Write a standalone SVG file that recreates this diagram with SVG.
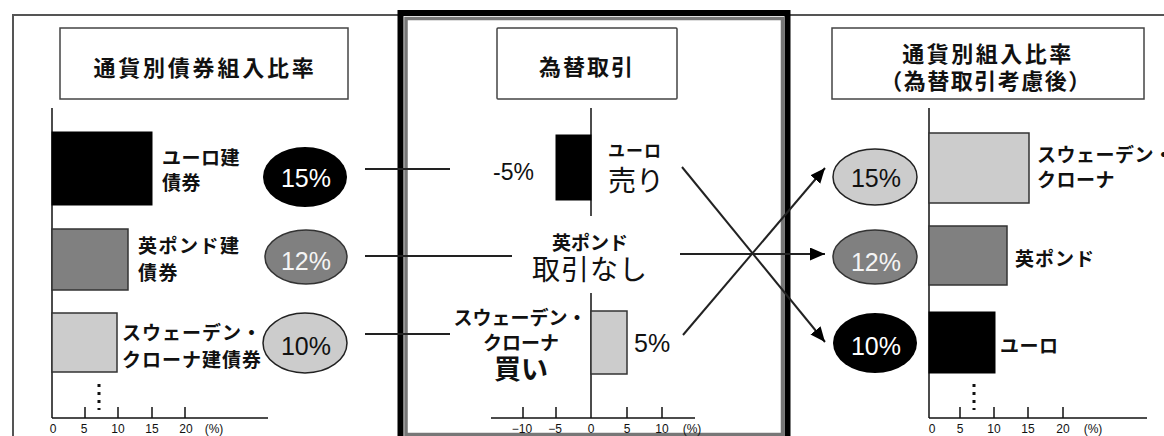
<svg xmlns="http://www.w3.org/2000/svg" width="1164" height="436" viewBox="0 0 1164 436">
<style>
.jp{font-family:"Noto Sans CJK JP","Noto Sans CJK SC",sans-serif;fill:#111}
.b{font-weight:bold}
.num{font-family:"Liberation Sans","DejaVu Sans",sans-serif}
.ax{font-family:"Liberation Sans","DejaVu Sans",sans-serif;font-size:12px;fill:#111;text-anchor:middle}
.tbox{fill:#fff;stroke:#444;stroke-width:1.5}
.axis{stroke:#111;stroke-width:1.5;fill:none}
.conn{stroke:#222;stroke-width:2;fill:none}
.dots{stroke:#111;stroke-width:3;stroke-dasharray:3 5}
.dark{fill:#000;stroke:#000;stroke-width:1}
.mid{fill:#808080;stroke:#333;stroke-width:1.5}
.light{fill:#ccc;stroke:#333;stroke-width:1.5}
</style>
<defs>
<marker id="ah" markerUnits="userSpaceOnUse" markerWidth="16" markerHeight="14" refX="15" refY="6.5" orient="auto">
<path d="M0,0 L15,6.5 L0,13 z" fill="#000"/>
</marker>
</defs>
<rect width="1164" height="436" fill="#fff"/>
<!-- outer frame -->
<g id="frame">
<path d="M13,436 V15 H1164" fill="none" stroke="#555" stroke-width="2"/>
<rect x="400.5" y="13" width="387" height="440" fill="none" stroke="#000" stroke-width="6"/>
<rect x="406" y="18.5" width="376.5" height="416" fill="none" stroke="#777" stroke-width="3.5"/>
</g>

<!-- connectors -->
<g id="connectors">
<line class="conn" x1="365" y1="169" x2="450" y2="169"/>
<line class="conn" x1="365" y1="256" x2="512" y2="256"/>
<line class="conn" x1="365" y1="334" x2="450" y2="334"/>
<line class="conn" x1="682" y1="167" x2="825" y2="342" marker-end="url(#ah)"/>
<line class="conn" x1="683" y1="335" x2="825" y2="168" marker-end="url(#ah)"/>
<line class="conn" x1="680" y1="254" x2="825" y2="254" marker-end="url(#ah)"/>
</g>

<!-- left section -->
<g id="title-left">
<rect class="tbox" x="60" y="28" width="288" height="71"/>
<text class="jp b" x="205" y="76" font-size="22" letter-spacing="2.8" text-anchor="middle">通貨別債券組入比率</text>
</g>
<g id="chart-left">
<line class="axis" x1="52" y1="108" x2="52" y2="418"/>
<line class="axis" x1="52" y1="418" x2="268" y2="418"/>
<line class="axis" x1="85" y1="407" x2="85" y2="418"/>
<line class="axis" x1="118" y1="407" x2="118" y2="418"/>
<line class="axis" x1="152" y1="407" x2="152" y2="418"/>
<line class="axis" x1="185" y1="407" x2="185" y2="418"/>
<text class="ax" x="53" y="433">0</text>
<text class="ax" x="84" y="433">5</text>
<text class="ax" x="118" y="433">10</text>
<text class="ax" x="152" y="433">15</text>
<text class="ax" x="186" y="433">20</text>
<text class="ax" x="214" y="433">(%)</text>
<line class="dots" x1="99" y1="384" x2="99" y2="410"/>
</g>
<g id="bar-left-euro">
<rect class="dark" x="52" y="132" width="100" height="73"/>
<text class="jp b" x="162" y="165" font-size="19" letter-spacing="0.5">ユーロ建</text>
<text class="jp b" x="162" y="190" font-size="19" letter-spacing="0.5">債券</text>
</g>
<g id="bar-left-pound">
<rect class="mid" x="52" y="229" width="76" height="61"/>
<text class="jp b" x="138" y="253" font-size="19" letter-spacing="1.5">英ポンド建</text>
<text class="jp b" x="138" y="280" font-size="19" letter-spacing="1.5">債券</text>
</g>
<g id="bar-left-sek">
<rect class="light" x="52" y="313" width="65" height="59"/>
<text class="jp b" x="122" y="340" font-size="19" letter-spacing="1">スウェーデン・</text>
<text class="jp b" x="122" y="367" font-size="19" letter-spacing="1">クローナ建債券</text>
</g>
<g id="ell-left-15">
<ellipse cx="305" cy="177" rx="42" ry="30" fill="#000"/>
<text class="num" x="306" y="187" font-size="25" fill="#fff" text-anchor="middle">15%</text>
</g>
<g id="ell-left-12">
<ellipse cx="306" cy="257" rx="41" ry="27" fill="#808080" stroke="#333" stroke-width="1.5"/>
<text class="num" x="306" y="270" font-size="25" fill="#f4f4f4" text-anchor="middle">12%</text>
</g>
<g id="ell-left-10">
<ellipse cx="305" cy="343" rx="42" ry="30" fill="#ccc" stroke="#222" stroke-width="1.5"/>
<text class="num" x="306" y="355" font-size="25" fill="#111" text-anchor="middle">10%</text>
</g>

<!-- middle section -->
<g id="title-mid">
<rect class="tbox" x="497" y="28" width="180" height="71" rx="1"/>
<text class="jp b" x="587" y="75" font-size="22" letter-spacing="2" text-anchor="middle">為替取引</text>
</g>
<g id="chart-mid">
<line class="axis" x1="591" y1="108" x2="591" y2="216"/>
<line class="axis" x1="591" y1="293" x2="591" y2="418"/>
<line class="axis" x1="491" y1="418" x2="695" y2="418"/>
<line class="axis" x1="523" y1="407" x2="523" y2="418"/>
<line class="axis" x1="556" y1="407" x2="556" y2="418"/>
<line class="axis" x1="627" y1="407" x2="627" y2="418"/>
<line class="axis" x1="662" y1="407" x2="662" y2="418"/>
<text class="ax" x="522" y="433">−10</text>
<text class="ax" x="555" y="433">−5</text>
<text class="ax" x="591" y="433">0</text>
<text class="ax" x="627" y="433">5</text>
<text class="ax" x="662" y="433">10</text>
<text class="ax" x="692" y="433">(%)</text>
</g>
<g id="bar-mid-euro">
<rect class="dark" x="556" y="135" width="35" height="65"/>
<text class="num" x="493" y="180" font-size="23" fill="#111">-5%</text>
<text class="jp b" x="608" y="157" font-size="17" letter-spacing="1">ユーロ</text>
<text class="jp" x="608" y="191" font-size="28">売り</text>
</g>
<g id="label-mid-pound">
<text class="jp b" x="590" y="250" font-size="19" text-anchor="middle">英ポンド</text>
<text class="jp" x="590" y="280" font-size="28" letter-spacing="1" text-anchor="middle">取引なし</text>
</g>
<g id="bar-mid-sek">
<rect class="light" x="591" y="311" width="36" height="63"/>
<text class="jp b" x="520" y="325" font-size="19" text-anchor="middle">スウェーデン・</text>
<text class="jp b" x="521" y="350" font-size="19" text-anchor="middle">クローナ</text>
<text class="jp b" x="521" y="379" font-size="27" text-anchor="middle">買い</text>
<text class="num" x="634" y="352" font-size="25" fill="#111">5%</text>
</g>

<!-- right section -->
<g id="title-right">
<rect class="tbox" x="832" y="28" width="312" height="71"/>
<text class="jp b" x="988" y="62" font-size="22" letter-spacing="2.5" text-anchor="middle">通貨別組入比率</text>
<text class="jp b" x="986" y="89" font-size="22" letter-spacing="1.5" text-anchor="middle">（為替取引考慮後）</text>
</g>
<g id="chart-right">
<line class="axis" x1="929" y1="108" x2="929" y2="418"/>
<line class="axis" x1="929" y1="418" x2="1147" y2="418"/>
<line class="axis" x1="960" y1="407" x2="960" y2="418"/>
<line class="axis" x1="994" y1="407" x2="994" y2="418"/>
<line class="axis" x1="1028" y1="407" x2="1028" y2="418"/>
<line class="axis" x1="1063" y1="407" x2="1063" y2="418"/>
<text class="ax" x="932" y="433">0</text>
<text class="ax" x="960" y="433">5</text>
<text class="ax" x="994" y="433">10</text>
<text class="ax" x="1028" y="433">15</text>
<text class="ax" x="1063" y="433">20</text>
<text class="ax" x="1093" y="433">(%)</text>
<line class="dots" x1="974" y1="384" x2="974" y2="410"/>
</g>
<g id="bar-right-sek">
<rect class="light" x="929" y="133" width="100" height="70"/>
<text class="jp b" x="1037" y="162" font-size="19" letter-spacing="0.5">スウェーデン・</text>
<text class="jp b" x="1037" y="187" font-size="19" letter-spacing="0.5">クローナ</text>
</g>
<g id="bar-right-pound">
<rect class="mid" x="929" y="226" width="78" height="59"/>
<text class="jp b" x="1015" y="266" font-size="19" letter-spacing="1">英ポンド</text>
</g>
<g id="bar-right-euro">
<rect class="dark" x="929" y="312" width="66" height="61"/>
<text class="jp b" x="1000" y="353" font-size="19" letter-spacing="0.5">ユーロ</text>
</g>
<g id="ell-right-15">
<ellipse cx="875" cy="177" rx="42" ry="28" fill="#ccc" stroke="#222" stroke-width="1.5"/>
<text class="num" x="876" y="187" font-size="25" fill="#111" text-anchor="middle">15%</text>
</g>
<g id="ell-right-12">
<ellipse cx="875" cy="257" rx="42" ry="27" fill="#808080" stroke="#333" stroke-width="1.5"/>
<text class="num" x="876" y="271" font-size="25" fill="#f4f4f4" text-anchor="middle">12%</text>
</g>
<g id="ell-right-10">
<ellipse cx="875" cy="343" rx="42" ry="30" fill="#000"/>
<text class="num" x="876" y="355" font-size="25" fill="#fff" text-anchor="middle">10%</text>
</g>
</svg>
